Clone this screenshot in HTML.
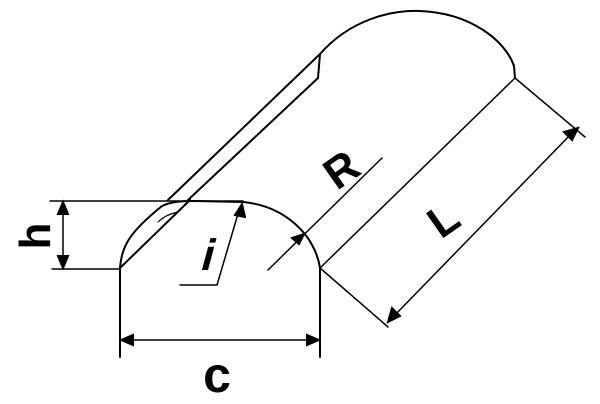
<!DOCTYPE html>
<html><head><style>body{margin:0;background:#fff}svg{display:block}</style></head><body>
<svg width="600" height="404" viewBox="0 0 600 404" xmlns="http://www.w3.org/2000/svg" fill="none" stroke="#000" stroke-width="2" stroke-linecap="round">
<path d="M320 54 C350 20 390 10 420 11 C470 13 505 40 514 66 L515 78"/>
<path d="M320 54 L318 78 L188 200"/>
<path d="M320 54 L168 200"/>
<path d="M190 200 L120 268"/>
<path d="M178 212 C168 214 162 218 158 222" stroke-width="1.2"/>
<path d="M120 357 L120 268 C122 245 130 232 162 206 C170 202 180 201 195 201 L243 202 C285 206 315 235 320 268 L320 357"/>
<path d="M320 268 L515 78" stroke-width="1.5"/>
<path d="M268 270 L382 158" stroke-width="1.5"/>
<path d="M304 234 L292 238 L299 244 Z" fill="#000"/>
<path d="M515 78 L585 137 M320 268 L388 327" stroke-width="1.5"/>
<path d="M392 318 L575 130" stroke-width="1.5"/>
<path d="M578 128 L564 132 L572 140 Z M388 322 L392 308 L400 316 Z" fill="#000"/>
<path d="M50 201 L243 201 M52 269 L120 269" stroke-width="1.5"/>
<path d="M63 202 L63 268" stroke-width="1.5"/>
<path d="M63 202 L58 214 L68 214 Z M63 268 L58 256 L68 256 Z" fill="#000"/>
<path d="M121 340 L319 340" stroke-width="1.5"/>
<path d="M121 340 L133 335 L133 345 Z M319 340 L307 335 L307 345 Z" fill="#000"/>
<path d="M180 285 L217 285 L240 207" stroke-width="1.5"/>
<path d="M242 204 L235 215 L245 217 Z" fill="#000"/>
<g fill="#000" stroke="none" font-family="Liberation Sans, sans-serif" font-weight="bold">
<text x="0" y="0" font-size="44" transform="translate(350 182) rotate(-35)" text-anchor="middle">R</text>
<text x="0" y="0" font-size="44" transform="translate(452 232) rotate(-35)" text-anchor="middle">L</text>
<text x="0" y="0" font-size="44" transform="translate(205 270) skewX(-15)" text-anchor="middle">i</text>
<text x="0" y="0" font-size="44" transform="translate(50 236) rotate(-90)" text-anchor="middle">h</text>
<text x="217" y="392" font-size="50" text-anchor="middle">c</text>
</g>
</svg>
</body></html>
